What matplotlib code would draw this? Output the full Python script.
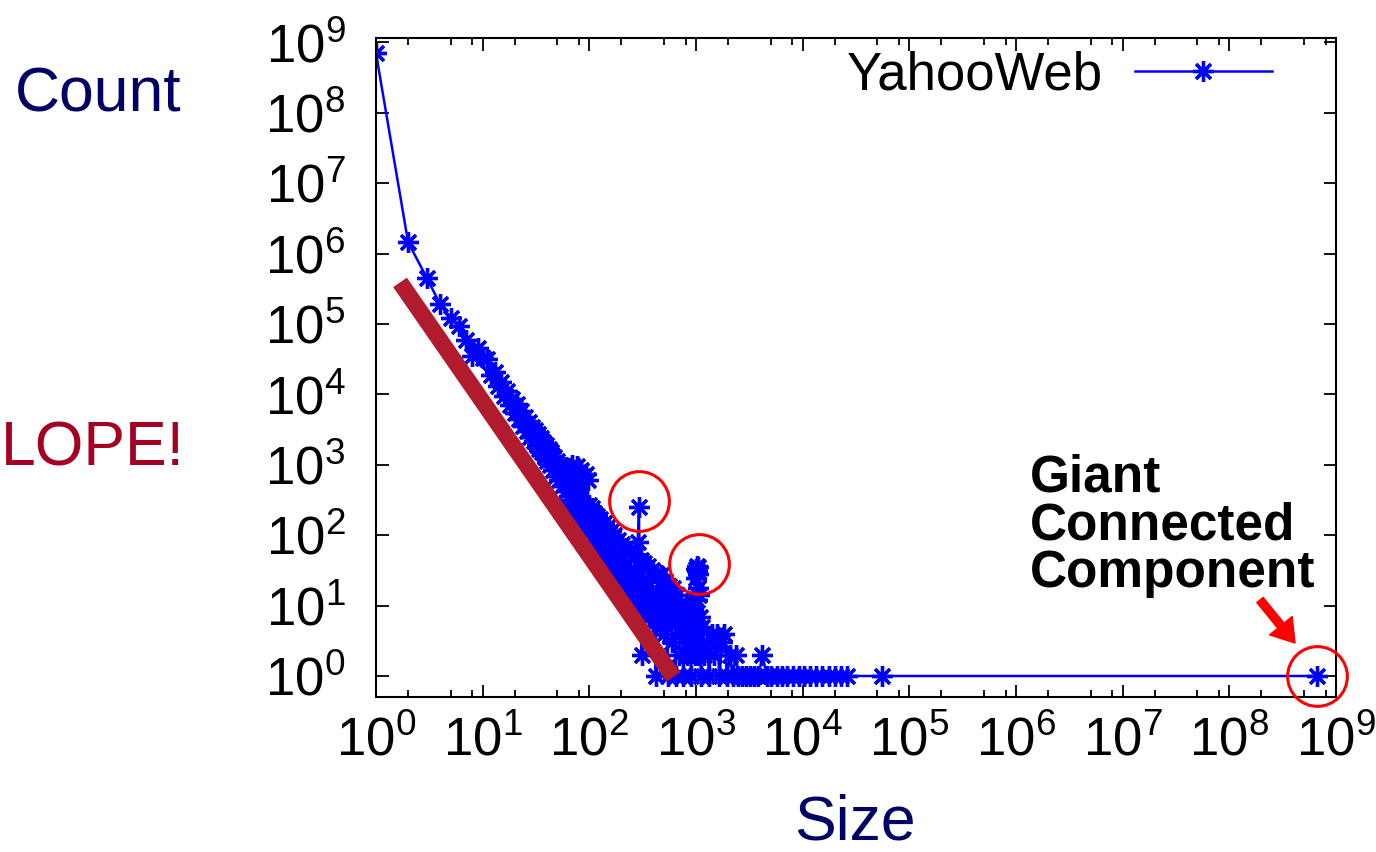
import numpy as np
import matplotlib
matplotlib.use('Agg')
import matplotlib.pyplot as plt
from matplotlib.ticker import FixedLocator, FuncFormatter, NullLocator

plt.rcParams['font.family'] = ['Liberation Sans', 'DejaVu Sans']
plt.rcParams['mathtext.fontset'] = 'custom'
plt.rcParams['mathtext.rm'] = 'Liberation Sans'
plt.rcParams['mathtext.it'] = 'Liberation Sans:italic'
plt.rcParams['mathtext.bf'] = 'Liberation Sans:bold'

# component size -> number of components
sizes = [1, 2, 3, 4, 5, 6, 7, 8, 9, 10,
         11, 12, 13, 14, 15, 16, 17, 18, 19, 20,
         21, 22, 23, 24, 25, 26, 27, 28, 29, 30,
         31, 32, 33, 34, 35, 36, 37, 38, 39, 40,
         42, 43, 44, 46, 47, 49, 50, 52, 54, 56,
         58, 60, 62, 64, 66, 67, 69, 70, 72, 74,
         76, 78, 80, 82, 84, 86, 88, 90, 93, 95,
         97, 99,
         100, 101, 103, 105, 107, 109, 111, 113, 116,
         118, 121, 124, 127, 130, 133, 136, 140, 143,
         147, 151, 155, 159, 163, 168, 172, 177, 182,
         187, 192, 197, 203, 209, 215, 221, 228, 235,
         242, 249, 256, 264, 272, 280, 286, 292, 296,
         305, 308, 310, 316, 325, 330, 334, 344,
         354, 359, 364, 375, 386, 391, 397, 409,
         420, 426, 432, 445, 458, 464, 470, 484,
         498, 505, 512, 527, 542, 550, 557, 573,
         590, 598, 607, 625, 643, 652, 662, 681,
         700, 710, 720, 741, 762, 773, 784, 806,
         829, 841, 853, 877, 902, 915, 928, 955,
         980, 990, 995, 1000,
         1005, 1010, 1015, 1020, 1025, 1030, 1035, 1040, 1045,
         1052, 1065, 1085, 1110, 1150, 1200, 1260, 1330, 1400,
         1480, 1570, 1660, 1760, 1850, 1950, 2080, 2200, 2350,
         2500, 2700, 2950, 3200, 3500, 3850, 4200, 4600, 5100,
         5700, 6400, 7200, 8100, 9200, 10400, 11800, 13400, 15300,
         17500, 20000, 23000, 26000, 55000, 670000000]

counts = [700000000, 1450000, 450000, 190000, 120000, 93000, 60000, 35000, 46000, 33000,
          32000, 19000, 21000, 13000, 15000, 9500, 11000, 7000, 8600, 5500,
          7200, 4500, 5800, 3600, 4800, 3000, 4100, 2500, 3500, 2200,
          3100, 1900, 2700, 1700, 2400, 1500, 2100, 1300, 1900, 1150,
          1700, 1000, 1500, 850, 1300, 700, 1150, 600, 1000, 500,
          850, 420, 750, 360, 900, 320, 1000, 280, 850, 250,
          950, 220, 800, 200, 850, 180, 700, 160, 750, 140,
          600, 130,
          270, 140, 60, 240, 120, 50, 210, 100, 45,
          190, 90, 40, 170, 80, 35, 150, 70, 30,
          130, 60, 26, 115, 52, 23, 100, 45, 20,
          85, 40, 17, 75, 35, 15, 65, 30, 13,
          58, 27, 11, 52, 24, 10, 80, 250, 9,
          45, 14, 2, 20, 40, 12, 8, 18,
          36, 11, 7, 16, 32, 10, 6, 14,
          1, 9, 28, 12, 5, 15, 27, 11,
          4, 13, 22, 9, 1, 10, 19, 8,
          3, 12, 18, 7, 1, 9, 14, 6,
          2, 7, 11, 5, 1, 6, 9, 4,
          2, 5, 8, 3, 1, 6, 9, 4,
          2, 15, 25, 8,
          33, 3, 36, 12, 31, 5, 35, 18, 28,
          2, 14, 7, 1, 5, 2, 3, 1, 4,
          2, 4, 1, 3, 4, 1, 2, 1, 2,
          1, 1, 1, 1, 1, 1, 2, 1, 1,
          1, 1, 1, 1, 1, 1, 1, 1, 1,
          1, 1, 1, 1, 1, 1]

# highlighted points and the slope guide
circle_x = [292, 1070, 670000000]
circle_y = [306, 39, 1]
slope_x = [1.68, 614]
slope_y = [390000, 0.97]

fig = plt.figure(figsize=(13.76, 8.52), dpi=100)
ax = fig.add_axes([376 / 1376, 1 - 697 / 852, 960 / 1376, 659 / 852])
ax.set_xscale('log')
ax.set_yscale('log')

ax.plot(sizes, counts, color='blue', lw=1.8, marker=(8, 2, 0), ms=15, mew=2.4,
        label='YahooWeb')
ax.plot(slope_x, slope_y, color='#b11b2d', lw=12, solid_capstyle='butt',
        clip_on=False, zorder=5)
ax.plot(circle_x, circle_y, ls='none', marker='o', ms=43, mfc='none', mec='red',
        mew=2.2, clip_on=False, zorder=6)

ax.set_xlim(1, 1e9)
ax.set_ylim(0.503, 1.156e9)

decades = 10.0 ** np.arange(10)
ax.xaxis.set_major_locator(FixedLocator(decades))
ax.xaxis.set_minor_locator(FixedLocator([m * 10.0 ** k for k in range(9) for m in (2, 5, 8)]))
ax.yaxis.set_major_locator(FixedLocator(decades))
ax.yaxis.set_minor_locator(NullLocator())
fmt = FuncFormatter(lambda v, p: r'$10^{%d}$' % round(np.log10(v)))
ax.xaxis.set_major_formatter(fmt)
ax.yaxis.set_major_formatter(fmt)

ax.tick_params(which='both', direction='in', top=True, right=True, width=1.3)
ax.tick_params(which='major', length=9, labelsize=38)
ax.tick_params(which='minor', length=5)
ax.tick_params(axis='x', pad=14)
ax.tick_params(axis='y', pad=22)
for sp in ax.spines.values():
    sp.set_linewidth(1.5)

ax.legend(loc='center right', bbox_to_anchor=(1272 / 1376, 1 - 75 / 852),
          bbox_transform=fig.transFigure, markerfirst=False, frameon=False,
          handlelength=2.6, handletextpad=0.6, borderpad=0, borderaxespad=0,
          fontsize=38, numpoints=1)

fig.text(15 / 1376, 1 - 112 / 852, 'Count', fontsize=45, color='#000066', va='baseline')
fig.text(1 / 1376, 1 - 465 / 852, 'LOPE!', fontsize=45, color='#a30022', va='baseline')
fig.text(855 / 1376, 1 - 840 / 852, 'Size', fontsize=45, color='#000066',
         ha='center', va='baseline')

for txt, base in [('Giant', 492), ('Connected', 540), ('Component', 587)]:
    fig.text(1030 / 1376, 1 - base / 852, txt, fontsize=37, fontweight='bold',
             va='baseline')

ax.annotate('', xy=(1295, 852 - 643), xytext=(1260, 852 - 600),
            xycoords='figure pixels', textcoords='figure pixels',
            arrowprops=dict(arrowstyle='simple,head_width=1.5,head_length=1.15,tail_width=0.42',
                            mutation_scale=14, color='red', shrinkA=0, shrinkB=0))

fig.savefig('out.png', dpi=100)
